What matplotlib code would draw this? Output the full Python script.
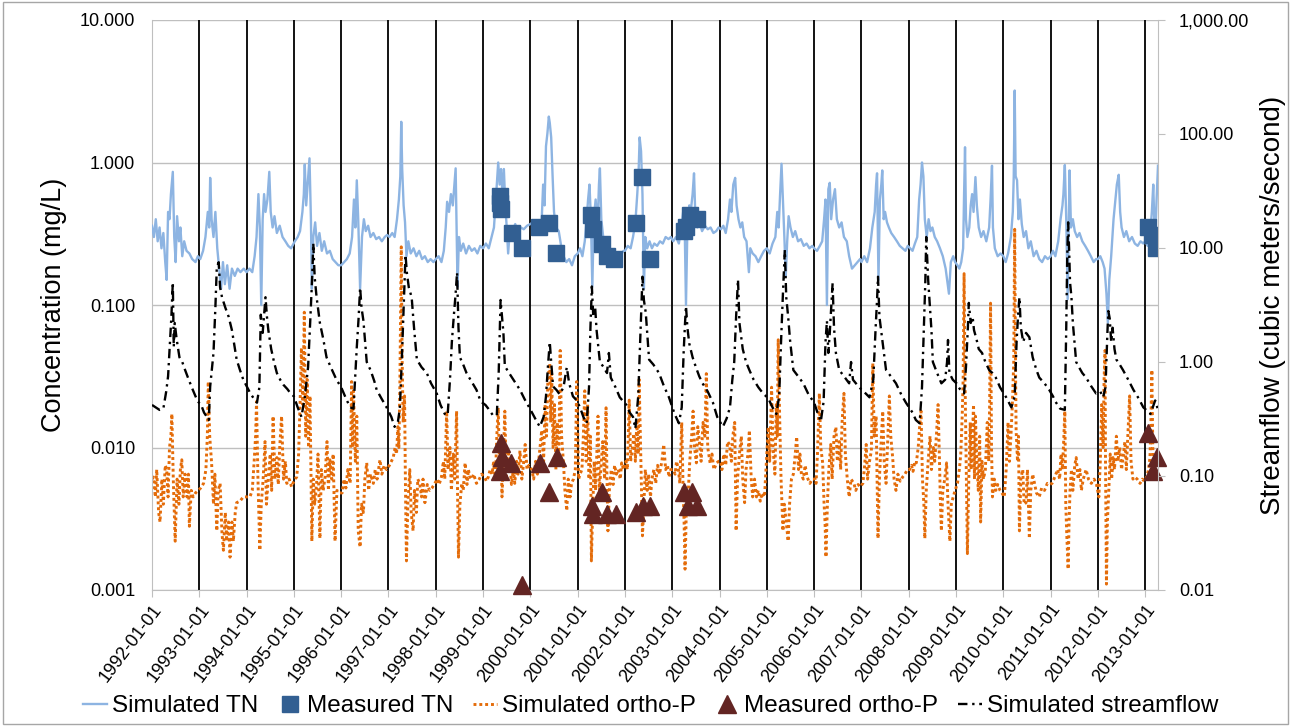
import matplotlib
matplotlib.use('Agg')
import matplotlib.pyplot as plt
from matplotlib.patches import Rectangle
from matplotlib.lines import Line2D
from matplotlib.ticker import FixedLocator, NullLocator, FuncFormatter

# simulated total nitrogen (decimal year, mg/L)
sim_tn = [
    (1992.00, 0.36), (1992.04, 0.30), (1992.08, 0.40), (1992.12, 0.28), (1992.16, 0.35), (1992.20, 0.25),
    (1992.24, 0.32), (1992.28, 0.20), (1992.31, 0.15), (1992.34, 0.45), (1992.37, 0.40), (1992.40, 0.60),
    (1992.44, 0.86), (1992.47, 0.30), (1992.50, 0.20), (1992.53, 0.42), (1992.57, 0.28), (1992.60, 0.35),
    (1992.64, 0.22), (1992.68, 0.28), (1992.73, 0.24), (1992.79, 0.23), (1992.85, 0.21), (1992.92, 0.20),
    (1992.97, 0.22),
    (1993.02, 0.21), (1993.08, 0.24), (1993.13, 0.30), (1993.18, 0.45), (1993.21, 0.35), (1993.23, 0.78),
    (1993.26, 0.40), (1993.30, 0.30), (1993.34, 0.45), (1993.38, 0.25), (1993.42, 0.18), (1993.46, 0.13),
    (1993.50, 0.20), (1993.54, 0.14), (1993.59, 0.19), (1993.64, 0.13), (1993.69, 0.18), (1993.75, 0.16),
    (1993.81, 0.18), (1993.87, 0.17), (1993.94, 0.18),
    (1994.00, 0.17), (1994.06, 0.18), (1994.12, 0.17), (1994.17, 0.22), (1994.21, 0.30), (1994.25, 0.60),
    (1994.28, 0.35), (1994.31, 0.10), (1994.34, 0.40), (1994.37, 0.60), (1994.40, 0.45), (1994.44, 0.55),
    (1994.48, 0.86), (1994.51, 0.45), (1994.55, 0.35), (1994.59, 0.42), (1994.64, 0.32), (1994.70, 0.36),
    (1994.76, 0.30), (1994.82, 0.28), (1994.88, 0.26), (1994.94, 0.25),
    (1995.02, 0.28), (1995.08, 0.30), (1995.13, 0.33), (1995.18, 0.45), (1995.21, 0.60), (1995.23, 0.97),
    (1995.26, 0.50), (1995.29, 0.70), (1995.33, 1.07), (1995.36, 0.40), (1995.38, 0.13), (1995.41, 0.30),
    (1995.45, 0.38), (1995.49, 0.26), (1995.54, 0.32), (1995.59, 0.24), (1995.64, 0.28), (1995.70, 0.23),
    (1995.76, 0.24), (1995.82, 0.21), (1995.88, 0.20), (1995.94, 0.19),
    (1996.00, 0.19), (1996.06, 0.20), (1996.12, 0.21), (1996.18, 0.23), (1996.23, 0.30), (1996.27, 0.55),
    (1996.30, 0.35), (1996.33, 0.75), (1996.36, 0.40), (1996.40, 0.13), (1996.44, 0.30), (1996.48, 0.40),
    (1996.52, 0.33), (1996.57, 0.36), (1996.62, 0.30), (1996.68, 0.32), (1996.74, 0.29), (1996.80, 0.30),
    (1996.86, 0.28), (1996.92, 0.30), (1996.97, 0.31),
    (1997.02, 0.30), (1997.08, 0.32), (1997.13, 0.30), (1997.18, 0.40), (1997.22, 0.55), (1997.25, 0.80),
    (1997.27, 1.93), (1997.29, 0.90), (1997.32, 0.50), (1997.35, 0.38), (1997.38, 0.22), (1997.42, 0.28),
    (1997.47, 0.23), (1997.53, 0.25), (1997.59, 0.22), (1997.65, 0.24), (1997.71, 0.21), (1997.77, 0.22),
    (1997.83, 0.20), (1997.89, 0.21), (1997.95, 0.20),
    (1998.00, 0.21), (1998.06, 0.22), (1998.12, 0.20), (1998.17, 0.24), (1998.21, 0.35), (1998.24, 0.53),
    (1998.28, 0.45), (1998.32, 0.60), (1998.36, 0.50), (1998.40, 0.75), (1998.42, 0.91), (1998.44, 0.35),
    (1998.46, 0.134), (1998.49, 0.30), (1998.53, 0.24), (1998.58, 0.27), (1998.64, 0.23), (1998.70, 0.26),
    (1998.76, 0.24), (1998.82, 0.25), (1998.88, 0.23), (1998.94, 0.26),
    (1999.00, 0.25), (1999.06, 0.27), (1999.12, 0.25), (1999.18, 0.30), (1999.23, 0.35), (1999.27, 0.55),
    (1999.30, 0.80), (1999.32, 1.00), (1999.35, 0.70), (1999.38, 0.90), (1999.41, 0.60), (1999.44, 0.90),
    (1999.47, 0.50), (1999.50, 0.35), (1999.53, 0.23), (1999.57, 0.35), (1999.62, 0.33), (1999.68, 0.37),
    (1999.74, 0.32), (1999.80, 0.35), (1999.86, 0.34), (1999.93, 0.36),
    (2000.00, 0.37), (2000.05, 0.38), (2000.10, 0.32), (2000.15, 0.36), (2000.20, 0.33), (2000.24, 0.40),
    (2000.27, 0.70), (2000.30, 0.50), (2000.33, 1.30), (2000.36, 1.60), (2000.39, 2.10), (2000.41, 1.90),
    (2000.44, 1.50), (2000.47, 0.80), (2000.50, 0.45), (2000.54, 0.35), (2000.60, 0.33), (2000.65, 0.26),
    (2000.70, 0.22), (2000.76, 0.20), (2000.82, 0.21), (2000.88, 0.19), (2000.94, 0.22),
    (2001.00, 0.23), (2001.05, 0.25), (2001.10, 0.22), (2001.15, 0.28), (2001.19, 0.40), (2001.22, 0.55),
    (2001.25, 0.70), (2001.28, 0.40), (2001.31, 0.134), (2001.34, 0.40), (2001.38, 0.55), (2001.42, 0.35),
    (2001.45, 0.70), (2001.47, 0.91), (2001.50, 0.40), (2001.54, 0.30), (2001.58, 0.25), (2001.63, 0.24),
    (2001.69, 0.21), (2001.75, 0.22), (2001.81, 0.21), (2001.87, 0.22), (2001.93, 0.23), (2001.97, 0.24),
    (2002.00, 0.24), (2002.06, 0.26), (2002.12, 0.25), (2002.17, 0.30), (2002.22, 0.38), (2002.26, 0.60),
    (2002.29, 0.90), (2002.31, 1.50), (2002.34, 1.20), (2002.37, 0.60), (2002.40, 0.13), (2002.43, 0.30),
    (2002.47, 0.25), (2002.52, 0.28), (2002.57, 0.25), (2002.62, 0.27), (2002.68, 0.26), (2002.74, 0.28),
    (2002.80, 0.27), (2002.86, 0.30), (2002.92, 0.29), (2002.97, 0.30),
    (2003.02, 0.28), (2003.08, 0.30), (2003.14, 0.27), (2003.19, 0.35), (2003.23, 0.45), (2003.26, 0.40),
    (2003.29, 0.10), (2003.32, 0.35), (2003.36, 0.50), (2003.39, 0.45), (2003.43, 0.60), (2003.46, 0.84),
    (2003.49, 0.40), (2003.53, 0.35), (2003.58, 0.38), (2003.63, 0.33), (2003.69, 0.36), (2003.75, 0.34),
    (2003.81, 0.35), (2003.87, 0.32), (2003.93, 0.33), (2003.98, 0.35),
    (2004.03, 0.34), (2004.08, 0.36), (2004.13, 0.32), (2004.18, 0.40), (2004.22, 0.55), (2004.25, 0.45),
    (2004.29, 0.70), (2004.33, 0.78), (2004.36, 0.50), (2004.40, 0.40), (2004.44, 0.35), (2004.48, 0.38),
    (2004.52, 0.30), (2004.57, 0.28), (2004.62, 0.17), (2004.65, 0.25), (2004.70, 0.23), (2004.76, 0.22),
    (2004.82, 0.20), (2004.88, 0.22), (2004.94, 0.24),
    (2005.00, 0.25), (2005.06, 0.23), (2005.12, 0.27), (2005.18, 0.30), (2005.22, 0.45), (2005.25, 0.35),
    (2005.28, 0.60), (2005.31, 0.98), (2005.34, 0.55), (2005.37, 0.30), (2005.40, 0.16), (2005.43, 0.28),
    (2005.46, 0.42), (2005.50, 0.35), (2005.55, 0.30), (2005.60, 0.33), (2005.66, 0.28), (2005.72, 0.29),
    (2005.78, 0.26), (2005.84, 0.27), (2005.90, 0.25), (2005.96, 0.26),
    (2006.00, 0.25), (2006.06, 0.24), (2006.12, 0.26), (2006.17, 0.28), (2006.21, 0.40), (2006.24, 0.55),
    (2006.27, 0.10), (2006.30, 0.65), (2006.33, 0.72), (2006.36, 0.40), (2006.40, 0.55), (2006.44, 0.65),
    (2006.48, 0.40), (2006.53, 0.35), (2006.58, 0.38), (2006.63, 0.30), (2006.69, 0.28), (2006.74, 0.22),
    (2006.80, 0.18), (2006.86, 0.19), (2006.92, 0.20), (2006.97, 0.21),
    (2007.00, 0.20), (2007.06, 0.22), (2007.12, 0.20), (2007.18, 0.25), (2007.23, 0.35), (2007.28, 0.45),
    (2007.31, 0.70), (2007.33, 0.84), (2007.36, 0.15), (2007.39, 0.55), (2007.42, 0.70), (2007.44, 0.88),
    (2007.47, 0.40), (2007.50, 0.45), (2007.54, 0.38), (2007.58, 0.35), (2007.63, 0.32), (2007.69, 0.30),
    (2007.75, 0.28), (2007.81, 0.26), (2007.87, 0.25), (2007.93, 0.24), (2007.98, 0.26),
    (2008.03, 0.25), (2008.08, 0.24), (2008.13, 0.27), (2008.18, 0.30), (2008.22, 0.55), (2008.25, 0.70),
    (2008.28, 1.00), (2008.31, 0.80), (2008.34, 0.40), (2008.38, 0.30), (2008.42, 0.40), (2008.46, 0.33),
    (2008.50, 0.35), (2008.55, 0.30), (2008.60, 0.28), (2008.66, 0.25), (2008.72, 0.22), (2008.78, 0.18),
    (2008.85, 0.12), (2008.89, 0.20), (2008.94, 0.22), (2008.98, 0.20),
    (2009.03, 0.19), (2009.07, 0.18), (2009.11, 0.20), (2009.15, 0.25), (2009.17, 0.60), (2009.19, 1.28),
    (2009.21, 0.40), (2009.24, 0.30), (2009.28, 0.35), (2009.31, 0.50), (2009.34, 0.60), (2009.37, 0.45),
    (2009.41, 0.79), (2009.44, 0.50), (2009.48, 0.35), (2009.53, 0.30), (2009.58, 0.33), (2009.64, 0.28),
    (2009.70, 0.35), (2009.73, 0.55), (2009.76, 0.95), (2009.78, 0.35), (2009.82, 0.25), (2009.88, 0.22),
    (2009.94, 0.23),
    (2010.00, 0.22), (2010.05, 0.20), (2010.10, 0.23), (2010.16, 0.30), (2010.20, 0.45), (2010.22, 0.80),
    (2010.24, 3.20), (2010.26, 0.80), (2010.29, 0.75), (2010.32, 0.40), (2010.35, 0.55), (2010.39, 0.37),
    (2010.43, 0.30), (2010.48, 0.33), (2010.53, 0.25), (2010.58, 0.28), (2010.64, 0.22), (2010.70, 0.24),
    (2010.76, 0.21), (2010.82, 0.20), (2010.88, 0.22), (2010.94, 0.21),
    (2011.00, 0.22), (2011.05, 0.24), (2011.10, 0.22), (2011.16, 0.28), (2011.21, 0.40), (2011.25, 0.50),
    (2011.27, 0.60), (2011.30, 0.96), (2011.33, 0.40), (2011.36, 0.11), (2011.38, 0.30), (2011.40, 0.88),
    (2011.43, 0.35), (2011.47, 0.40), (2011.51, 0.33), (2011.56, 0.30), (2011.61, 0.32), (2011.67, 0.28),
    (2011.73, 0.26), (2011.79, 0.24), (2011.85, 0.22), (2011.91, 0.20), (2011.96, 0.21),
    (2012.00, 0.21), (2012.05, 0.22), (2012.10, 0.20), (2012.14, 0.18), (2012.18, 0.12), (2012.21, 0.075),
    (2012.24, 0.15), (2012.28, 0.22), (2012.33, 0.40), (2012.37, 0.55), (2012.40, 0.70), (2012.44, 0.82),
    (2012.47, 0.45), (2012.50, 0.35), (2012.55, 0.30), (2012.60, 0.33), (2012.66, 0.28), (2012.72, 0.30),
    (2012.78, 0.27), (2012.84, 0.26), (2012.90, 0.28), (2012.96, 0.27),
    (2013.00, 0.28), (2013.05, 0.26), (2013.10, 0.30), (2013.14, 0.45), (2013.17, 0.70), (2013.19, 0.40),
    (2013.22, 0.35), (2013.24, 0.55), (2013.27, 0.95),
]

# measured total nitrogen (mg/L)
meas_tn = [
    (1999.35, 0.58), (1999.36, 0.52), (1999.37, 0.47), (1999.61, 0.32), (1999.82, 0.25),
    (2000.18, 0.35), (2000.39, 0.375), (2000.54, 0.23),
    (2001.28, 0.43), (2001.32, 0.34), (2001.51, 0.27), (2001.62, 0.22), (2001.77, 0.21),
    (2002.23, 0.375), (2002.36, 0.79), (2002.53, 0.21),
    (2003.25, 0.33), (2003.30, 0.35), (2003.38, 0.43), (2003.52, 0.40),
    (2013.06, 0.35), (2013.14, 0.31), (2013.23, 0.25),
]

# simulated ortho-P (mg/L)
sim_p = [
    (1992.00, 0.006), (1992.03, 0.0062), (1992.07, 0.0045), (1992.10, 0.007), (1992.14, 0.0035),
    (1992.17, 0.003), (1992.21, 0.006), (1992.24, 0.004), (1992.28, 0.0075), (1992.31, 0.007),
    (1992.34, 0.0045), (1992.37, 0.01), (1992.40, 0.012), (1992.42, 0.0172), (1992.45, 0.006),
    (1992.49, 0.0022), (1992.53, 0.006), (1992.57, 0.004), (1992.60, 0.007), (1992.63, 0.0082),
    (1992.66, 0.0045), (1992.70, 0.0065), (1992.74, 0.0045), (1992.77, 0.0065), (1992.79, 0.0028),
    (1992.83, 0.005), (1992.87, 0.0045), (1992.92, 0.0048), (1992.98, 0.005),
    (1993.03, 0.0052), (1993.09, 0.0056), (1993.14, 0.007), (1993.17, 0.012), (1993.19, 0.029),
    (1993.22, 0.012), (1993.26, 0.0078), (1993.30, 0.004), (1993.33, 0.0065), (1993.37, 0.0026),
    (1993.40, 0.005), (1993.44, 0.0056), (1993.48, 0.0025), (1993.51, 0.0019), (1993.55, 0.0035),
    (1993.58, 0.0022), (1993.62, 0.003), (1993.65, 0.0017), (1993.69, 0.003), (1993.72, 0.0022),
    (1993.76, 0.0035), (1993.79, 0.0041), (1993.86, 0.0042), (1993.93, 0.0045),
    (1994.03, 0.0045), (1994.07, 0.0045), (1994.12, 0.005), (1994.16, 0.008), (1994.19, 0.012),
    (1994.21, 0.021), (1994.24, 0.006), (1994.28, 0.0019), (1994.31, 0.004), (1994.35, 0.006),
    (1994.39, 0.011), (1994.42, 0.004), (1994.46, 0.0062), (1994.50, 0.009), (1994.53, 0.005),
    (1994.56, 0.0166), (1994.60, 0.006), (1994.64, 0.0085), (1994.67, 0.0055), (1994.70, 0.01),
    (1994.74, 0.0166), (1994.78, 0.006), (1994.82, 0.008), (1994.85, 0.0056), (1994.90, 0.006),
    (1994.95, 0.0053),
    (1995.02, 0.006), (1995.06, 0.0062), (1995.10, 0.009), (1995.13, 0.02), (1995.16, 0.05),
    (1995.19, 0.02), (1995.22, 0.089), (1995.25, 0.012), (1995.28, 0.03), (1995.31, 0.01),
    (1995.34, 0.023), (1995.38, 0.0022), (1995.41, 0.006), (1995.44, 0.004), (1995.48, 0.0056),
    (1995.51, 0.009), (1995.55, 0.0023), (1995.58, 0.007), (1995.62, 0.005), (1995.66, 0.0062),
    (1995.70, 0.011), (1995.73, 0.005), (1995.76, 0.0082), (1995.80, 0.006), (1995.83, 0.009),
    (1995.87, 0.0022), (1995.91, 0.005), (1995.97, 0.0048),
    (1996.02, 0.0048), (1996.06, 0.006), (1996.10, 0.0052), (1996.14, 0.007), (1996.19, 0.0056),
    (1996.22, 0.029), (1996.24, 0.01), (1996.26, 0.025), (1996.30, 0.008), (1996.33, 0.0166),
    (1996.36, 0.0026), (1996.40, 0.002), (1996.43, 0.004), (1996.47, 0.0035), (1996.50, 0.006),
    (1996.54, 0.0078), (1996.58, 0.005), (1996.62, 0.0065), (1996.68, 0.0056), (1996.72, 0.007),
    (1996.76, 0.006), (1996.82, 0.0082), (1996.86, 0.0065), (1996.91, 0.0075), (1996.96, 0.007),
    (1997.02, 0.0075), (1997.06, 0.008), (1997.10, 0.0085), (1997.14, 0.01), (1997.17, 0.009),
    (1997.20, 0.014), (1997.22, 0.01), (1997.24, 0.026), (1997.27, 0.256), (1997.29, 0.04),
    (1997.31, 0.015), (1997.34, 0.023), (1997.36, 0.005), (1997.38, 0.0016), (1997.41, 0.004),
    (1997.45, 0.007), (1997.48, 0.0035), (1997.52, 0.0026), (1997.55, 0.005), (1997.59, 0.0035),
    (1997.62, 0.006), (1997.66, 0.0056), (1997.70, 0.0045), (1997.73, 0.006), (1997.77, 0.0041),
    (1997.82, 0.0055), (1997.87, 0.005), (1997.92, 0.0052), (1997.98, 0.0056),
    (1998.03, 0.006), (1998.07, 0.0055), (1998.12, 0.0062), (1998.16, 0.008), (1998.19, 0.006),
    (1998.23, 0.018), (1998.26, 0.007), (1998.30, 0.01), (1998.33, 0.005), (1998.37, 0.009),
    (1998.40, 0.006), (1998.44, 0.018), (1998.46, 0.005), (1998.48, 0.0017), (1998.51, 0.004),
    (1998.55, 0.0056), (1998.58, 0.005), (1998.62, 0.0078), (1998.66, 0.0055), (1998.69, 0.007),
    (1998.72, 0.0062), (1998.76, 0.006), (1998.80, 0.0065), (1998.86, 0.0056), (1998.92, 0.006),
    (1998.97, 0.0065),
    (1999.03, 0.0062), (1999.07, 0.0058), (1999.11, 0.0062), (1999.15, 0.007), (1999.19, 0.0065),
    (1999.22, 0.0078), (1999.26, 0.006), (1999.29, 0.012), (1999.32, 0.019), (1999.35, 0.007),
    (1999.38, 0.011), (1999.40, 0.0045), (1999.43, 0.009), (1999.46, 0.018), (1999.49, 0.006),
    (1999.53, 0.0095), (1999.57, 0.0078), (1999.60, 0.0055), (1999.64, 0.007), (1999.67, 0.0056),
    (1999.71, 0.008), (1999.74, 0.0065), (1999.78, 0.0095), (1999.82, 0.006), (1999.86, 0.008),
    (1999.89, 0.0105), (1999.93, 0.007), (1999.97, 0.0075),
    (2000.03, 0.007), (2000.07, 0.006), (2000.11, 0.008), (2000.15, 0.0065), (2000.19, 0.009),
    (2000.24, 0.0132), (2000.28, 0.008), (2000.31, 0.02), (2000.34, 0.012), (2000.37, 0.03),
    (2000.41, 0.039), (2000.43, 0.015), (2000.45, 0.033), (2000.48, 0.01), (2000.51, 0.02),
    (2000.54, 0.007), (2000.57, 0.015), (2000.60, 0.008), (2000.63, 0.048), (2000.66, 0.012),
    (2000.70, 0.0078), (2000.73, 0.005), (2000.77, 0.0036), (2000.80, 0.006), (2000.84, 0.0045),
    (2000.87, 0.0056), (2000.91, 0.006), (2000.95, 0.007), (2000.98, 0.029),
    (2001.02, 0.006), (2001.05, 0.0065), (2001.09, 0.007), (2001.12, 0.012), (2001.15, 0.025),
    (2001.18, 0.008), (2001.21, 0.02), (2001.24, 0.006), (2001.27, 0.012), (2001.29, 0.0016),
    (2001.32, 0.0039), (2001.35, 0.008), (2001.38, 0.005), (2001.41, 0.01), (2001.43, 0.0166),
    (2001.46, 0.005), (2001.50, 0.0078), (2001.53, 0.011), (2001.57, 0.006), (2001.60, 0.019),
    (2001.62, 0.006), (2001.64, 0.0026), (2001.67, 0.005), (2001.71, 0.007), (2001.75, 0.0055),
    (2001.78, 0.0075), (2001.82, 0.0065), (2001.86, 0.007), (2001.90, 0.006), (2001.93, 0.0078),
    (2001.97, 0.007),
    (2002.02, 0.008), (2002.05, 0.007), (2002.09, 0.0215), (2002.12, 0.008), (2002.16, 0.01),
    (2002.19, 0.0125), (2002.22, 0.008), (2002.25, 0.015), (2002.28, 0.009), (2002.30, 0.03),
    (2002.33, 0.01), (2002.35, 0.005), (2002.37, 0.0024), (2002.40, 0.004), (2002.43, 0.007),
    (2002.47, 0.005), (2002.50, 0.0065), (2002.54, 0.0045), (2002.57, 0.006), (2002.61, 0.007),
    (2002.65, 0.0056), (2002.69, 0.0075), (2002.73, 0.0065), (2002.78, 0.008), (2002.82, 0.0105),
    (2002.86, 0.007), (2002.90, 0.0075), (2002.93, 0.0062), (2002.97, 0.007),
    (2003.02, 0.007), (2003.06, 0.0065), (2003.09, 0.008), (2003.13, 0.007), (2003.16, 0.0056),
    (2003.20, 0.015), (2003.23, 0.005), (2003.25, 0.003), (2003.27, 0.0014), (2003.30, 0.004),
    (2003.34, 0.005), (2003.37, 0.008), (2003.41, 0.012), (2003.44, 0.018), (2003.47, 0.01),
    (2003.51, 0.0078), (2003.54, 0.014), (2003.58, 0.0105), (2003.61, 0.008), (2003.65, 0.015),
    (2003.69, 0.012), (2003.72, 0.033), (2003.75, 0.01), (2003.80, 0.0078), (2003.84, 0.009),
    (2003.88, 0.007), (2003.94, 0.0078), (2003.98, 0.008),
    (2004.02, 0.008), (2004.05, 0.007), (2004.09, 0.009), (2004.13, 0.0075), (2004.17, 0.011),
    (2004.21, 0.0105), (2004.25, 0.008), (2004.28, 0.012), (2004.32, 0.015), (2004.35, 0.0026),
    (2004.38, 0.006), (2004.42, 0.009), (2004.46, 0.012), (2004.49, 0.006), (2004.53, 0.0041),
    (2004.56, 0.007), (2004.60, 0.009), (2004.63, 0.0132), (2004.67, 0.006), (2004.70, 0.0045),
    (2004.74, 0.006), (2004.78, 0.0045), (2004.82, 0.005), (2004.86, 0.0042), (2004.90, 0.0048),
    (2004.95, 0.0045),
    (2005.03, 0.0139), (2005.06, 0.008), (2005.10, 0.0265), (2005.13, 0.01), (2005.17, 0.0065),
    (2005.20, 0.02), (2005.22, 0.012), (2005.24, 0.057), (2005.27, 0.0166), (2005.30, 0.006),
    (2005.34, 0.0026), (2005.37, 0.004), (2005.41, 0.003), (2005.45, 0.0022), (2005.48, 0.004),
    (2005.52, 0.006), (2005.56, 0.0065), (2005.60, 0.009), (2005.63, 0.0119), (2005.67, 0.007),
    (2005.70, 0.009), (2005.73, 0.0065), (2005.77, 0.006), (2005.81, 0.0075), (2005.85, 0.0062),
    (2005.91, 0.0056), (2005.96, 0.006),
    (2006.02, 0.006), (2006.04, 0.0056), (2006.07, 0.009), (2006.11, 0.024), (2006.14, 0.01),
    (2006.18, 0.0078), (2006.21, 0.004), (2006.23, 0.003), (2006.25, 0.0017), (2006.28, 0.004),
    (2006.31, 0.007), (2006.35, 0.0105), (2006.38, 0.006), (2006.42, 0.012), (2006.46, 0.0139),
    (2006.49, 0.008), (2006.53, 0.011), (2006.56, 0.007), (2006.59, 0.015), (2006.63, 0.024),
    (2006.66, 0.009), (2006.70, 0.006), (2006.74, 0.0045), (2006.78, 0.006), (2006.84, 0.0056),
    (2006.88, 0.005), (2006.93, 0.0055), (2006.97, 0.0053),
    (2007.03, 0.0056), (2007.06, 0.007), (2007.10, 0.0105), (2007.13, 0.006), (2007.17, 0.008),
    (2007.21, 0.0095), (2007.24, 0.039), (2007.27, 0.012), (2007.31, 0.0166), (2007.33, 0.006),
    (2007.35, 0.0023), (2007.38, 0.006), (2007.41, 0.01), (2007.45, 0.018), (2007.48, 0.008),
    (2007.52, 0.0056), (2007.55, 0.01), (2007.59, 0.023), (2007.62, 0.012), (2007.66, 0.0085),
    (2007.69, 0.006), (2007.73, 0.005), (2007.77, 0.0065), (2007.82, 0.0058), (2007.87, 0.0062),
    (2007.92, 0.0065), (2007.97, 0.007),
    (2008.02, 0.007), (2008.06, 0.0075), (2008.09, 0.0068), (2008.13, 0.008), (2008.16, 0.0078),
    (2008.20, 0.01), (2008.23, 0.014), (2008.26, 0.018), (2008.29, 0.006), (2008.32, 0.004),
    (2008.34, 0.0023), (2008.37, 0.005), (2008.41, 0.008), (2008.45, 0.012), (2008.48, 0.007),
    (2008.52, 0.01), (2008.55, 0.008), (2008.59, 0.013), (2008.62, 0.02), (2008.65, 0.008),
    (2008.67, 0.004), (2008.69, 0.0026), (2008.72, 0.005), (2008.76, 0.006), (2008.80, 0.0078),
    (2008.83, 0.004), (2008.87, 0.0022), (2008.90, 0.004), (2008.94, 0.0045), (2008.98, 0.005),
    (2009.03, 0.0056), (2009.07, 0.007), (2009.10, 0.009), (2009.13, 0.0166), (2009.15, 0.03),
    (2009.17, 0.166), (2009.19, 0.03), (2009.21, 0.01), (2009.24, 0.0018), (2009.27, 0.006),
    (2009.30, 0.015), (2009.32, 0.007), (2009.34, 0.0105), (2009.37, 0.02), (2009.39, 0.006),
    (2009.41, 0.0166), (2009.44, 0.008), (2009.47, 0.005), (2009.50, 0.012), (2009.52, 0.003),
    (2009.55, 0.008), (2009.58, 0.006), (2009.62, 0.007), (2009.66, 0.015), (2009.69, 0.008),
    (2009.71, 0.02), (2009.73, 0.103), (2009.75, 0.01), (2009.77, 0.0045), (2009.81, 0.006),
    (2009.84, 0.005), (2009.88, 0.0055), (2009.93, 0.005), (2009.97, 0.0048),
    (2010.02, 0.0045), (2010.06, 0.007), (2010.10, 0.015), (2010.13, 0.008), (2010.16, 0.012),
    (2010.19, 0.02), (2010.22, 0.04), (2010.24, 0.34), (2010.26, 0.03), (2010.27, 0.0132),
    (2010.30, 0.008), (2010.32, 0.012), (2010.34, 0.0026), (2010.37, 0.006), (2010.41, 0.007),
    (2010.44, 0.004), (2010.48, 0.0041), (2010.51, 0.007), (2010.55, 0.0023), (2010.58, 0.005),
    (2010.62, 0.0065), (2010.66, 0.0056), (2010.70, 0.0048), (2010.76, 0.0045), (2010.81, 0.0052),
    (2010.87, 0.005), (2010.93, 0.0056), (2010.98, 0.0055),
    (2011.03, 0.0056), (2011.07, 0.006), (2011.11, 0.0065), (2011.15, 0.007), (2011.19, 0.006),
    (2011.22, 0.009), (2011.25, 0.007), (2011.28, 0.012), (2011.30, 0.018), (2011.32, 0.004),
    (2011.34, 0.0025), (2011.37, 0.0014), (2011.39, 0.003), (2011.41, 0.005), (2011.44, 0.007),
    (2011.47, 0.005), (2011.51, 0.0075), (2011.54, 0.0085), (2011.58, 0.006), (2011.62, 0.007),
    (2011.65, 0.005), (2011.69, 0.006), (2011.75, 0.007), (2011.80, 0.006), (2011.86, 0.0056),
    (2011.92, 0.006), (2011.97, 0.0055),
    (2012.02, 0.0045), (2012.05, 0.008), (2012.08, 0.02), (2012.11, 0.01), (2012.13, 0.03),
    (2012.15, 0.048), (2012.16, 0.008), (2012.18, 0.0011), (2012.20, 0.003), (2012.23, 0.005),
    (2012.26, 0.009), (2012.29, 0.006), (2012.32, 0.0085), (2012.35, 0.007), (2012.39, 0.012),
    (2012.42, 0.008), (2012.46, 0.01), (2012.50, 0.007), (2012.53, 0.0085), (2012.57, 0.011),
    (2012.60, 0.007), (2012.64, 0.014), (2012.67, 0.023), (2012.70, 0.008), (2012.74, 0.006),
    (2012.78, 0.0062), (2012.83, 0.006), (2012.89, 0.0056), (2012.94, 0.006), (2012.98, 0.0058),
    (2013.03, 0.0062), (2013.07, 0.007), (2013.10, 0.0085), (2013.12, 0.015), (2013.14, 0.035),
    (2013.16, 0.01), (2013.18, 0.006), (2013.21, 0.007), (2013.24, 0.0065), (2013.27, 0.0068),
]

# measured ortho-P (mg/L)
meas_p = [
    (1999.37, 0.0108), (1999.39, 0.0086), (1999.60, 0.0078), (1999.36, 0.0068), (1999.82, 0.00108),
    (2000.20, 0.0078), (2000.40, 0.0049), (2000.56, 0.0086),
    (2001.30, 0.0039), (2001.33, 0.0034), (2001.51, 0.0049), (2001.61, 0.0034), (2001.81, 0.0034),
    (2002.23, 0.0035), (2002.39, 0.0039), (2002.53, 0.0039),
    (2003.25, 0.0049), (2003.41, 0.0049), (2003.34, 0.0039), (2003.52, 0.0039),
    (2013.05, 0.0127), (2013.24, 0.0086), (2013.16, 0.0068),
]

# simulated streamflow (cubic meters/second)
sim_q = [
    (1992.00, 0.42), (1992.08, 0.40), (1992.16, 0.38), (1992.24, 0.39), (1992.30, 0.55), (1992.34, 0.75),
    (1992.38, 1.5), (1992.41, 2.5), (1992.44, 5.0), (1992.46, 1.35), (1992.48, 2.2), (1992.52, 1.6),
    (1992.58, 1.1), (1992.64, 1.0), (1992.70, 0.85), (1992.76, 0.73), (1992.84, 0.6), (1992.92, 0.5),
    (1992.97, 0.45),
    (1993.04, 0.42), (1993.10, 0.36), (1993.16, 0.33), (1993.20, 0.31), (1993.23, 0.61), (1993.30, 1.2),
    (1993.34, 3.0), (1993.37, 6.8), (1993.41, 7.5), (1993.44, 4.5), (1993.48, 3.7), (1993.55, 3.0),
    (1993.62, 2.5), (1993.69, 1.9), (1993.79, 1.05), (1993.86, 0.85), (1993.93, 0.7),
    (1994.08, 0.53), (1994.15, 0.48), (1994.22, 0.44), (1994.27, 0.6), (1994.30, 2.6), (1994.34, 1.8),
    (1994.40, 3.7), (1994.43, 2.5), (1994.46, 1.9), (1994.52, 1.3), (1994.58, 1.0), (1994.64, 0.8),
    (1994.71, 0.7), (1994.78, 0.63), (1994.86, 0.58), (1994.93, 0.53),
    (1995.00, 0.5), (1995.08, 0.4), (1995.16, 0.33), (1995.23, 0.49), (1995.30, 0.9), (1995.35, 2.5),
    (1995.39, 6.0), (1995.41, 11.0), (1995.44, 5.5), (1995.48, 3.7), (1995.55, 2.2), (1995.62, 1.6),
    (1995.69, 1.1), (1995.78, 0.9), (1995.90, 0.7),
    (1996.00, 0.6), (1996.10, 0.48), (1996.19, 0.40), (1996.26, 0.39), (1996.30, 0.8), (1996.33, 1.35),
    (1996.37, 2.5), (1996.40, 4.5), (1996.43, 3.0), (1996.47, 2.3), (1996.54, 1.0), (1996.62, 0.85),
    (1996.70, 0.68), (1996.75, 0.57), (1996.85, 0.48), (1996.96, 0.40),
    (1997.06, 0.33), (1997.13, 0.27), (1997.20, 0.30), (1997.24, 0.39), (1997.28, 1.0), (1997.32, 3.0),
    (1997.36, 8.7), (1997.39, 6.0), (1997.43, 4.5), (1997.49, 3.7), (1997.54, 2.0), (1997.60, 1.05),
    (1997.70, 0.9), (1997.81, 0.8), (1997.90, 0.65),
    (1998.02, 0.53), (1998.10, 0.42), (1998.19, 0.35), (1998.25, 0.34), (1998.30, 0.7), (1998.34, 1.5),
    (1998.38, 2.5), (1998.42, 4.0), (1998.45, 6.1), (1998.48, 2.0), (1998.51, 1.1), (1998.58, 0.95),
    (1998.65, 0.8), (1998.75, 0.68), (1998.86, 0.57), (1998.95, 0.45),
    (1999.05, 0.42), (1999.11, 0.39), (1999.21, 0.34), (1999.29, 0.34), (1999.33, 0.8), (1999.37, 3.5),
    (1999.40, 2.5), (1999.43, 1.8), (1999.46, 0.92), (1999.55, 0.8), (1999.64, 0.7), (1999.78, 0.57),
    (1999.88, 0.47), (1999.99, 0.39),
    (2000.10, 0.32), (2000.20, 0.27), (2000.28, 0.33), (2000.33, 0.5), (2000.37, 0.9), (2000.41, 1.5),
    (2000.44, 1.0), (2000.48, 0.61), (2000.55, 0.57), (2000.62, 0.52), (2000.70, 0.6), (2000.77, 0.9),
    (2000.82, 0.65), (2000.90, 0.5), (2000.98, 0.46),
    (2001.05, 0.40), (2001.12, 0.33), (2001.19, 0.29), (2001.24, 0.6), (2001.27, 2.0), (2001.30, 4.6),
    (2001.33, 2.5), (2001.37, 3.0), (2001.40, 1.9), (2001.47, 1.0), (2001.55, 0.9), (2001.62, 0.8),
    (2001.66, 1.2), (2001.70, 0.73), (2001.80, 0.6), (2001.89, 0.49),
    (2002.03, 0.42), (2002.10, 0.36), (2002.17, 0.33), (2002.22, 0.26), (2002.28, 0.5), (2002.32, 1.5),
    (2002.35, 3.5), (2002.37, 5.6), (2002.40, 3.5), (2002.44, 2.7), (2002.51, 1.05), (2002.60, 0.95),
    (2002.72, 0.8), (2002.82, 0.62), (2002.93, 0.49),
    (2003.05, 0.35), (2003.14, 0.29), (2003.20, 0.4), (2003.24, 1.2), (2003.27, 2.2), (2003.29, 3.1),
    (2003.32, 2.0), (2003.36, 1.45), (2003.43, 1.1), (2003.50, 0.9), (2003.57, 0.75), (2003.64, 0.65),
    (2003.75, 0.55), (2003.86, 0.44), (2003.95, 0.33),
    (2004.07, 0.27), (2004.15, 0.32), (2004.22, 0.40), (2004.27, 0.7), (2004.31, 1.0), (2004.35, 2.5),
    (2004.39, 5.3), (2004.42, 2.2), (2004.49, 1.3), (2004.56, 1.0), (2004.63, 0.85), (2004.72, 0.7),
    (2004.82, 0.6), (2004.92, 0.53),
    (2005.03, 0.48), (2005.12, 0.40), (2005.20, 0.35), (2005.26, 0.5), (2005.30, 1.5), (2005.34, 4.0),
    (2005.38, 9.6), (2005.41, 3.7), (2005.45, 2.5), (2005.49, 1.56), (2005.56, 0.85), (2005.66, 0.75),
    (2005.77, 0.65), (2005.88, 0.52),
    (2006.00, 0.44), (2006.07, 0.36), (2006.14, 0.30), (2006.20, 0.45), (2006.24, 1.5), (2006.27, 2.3),
    (2006.30, 1.2), (2006.33, 1.8), (2006.36, 3.0), (2006.39, 4.9), (2006.42, 2.0), (2006.46, 1.2),
    (2006.53, 0.85), (2006.63, 0.75), (2006.74, 0.65), (2006.78, 1.0), (2006.82, 0.7), (2006.95, 0.6),
    (2007.05, 0.55), (2007.17, 0.49), (2007.25, 0.7), (2007.30, 2.0), (2007.33, 3.5), (2007.35, 5.6),
    (2007.38, 2.5), (2007.45, 1.45), (2007.52, 0.85), (2007.62, 0.75), (2007.73, 0.65), (2007.84, 0.52),
    (2007.94, 0.44),
    (2008.08, 0.36), (2008.15, 0.31), (2008.23, 0.29), (2008.28, 0.6), (2008.32, 2.0), (2008.35, 5.0),
    (2008.37, 12.5), (2008.41, 5.3), (2008.45, 3.0), (2008.48, 1.9), (2008.51, 1.0), (2008.60, 0.8),
    (2008.69, 0.65), (2008.77, 0.7), (2008.81, 1.0), (2008.83, 1.56), (2008.86, 0.8), (2008.93, 0.7),
    (2009.01, 0.65), (2009.08, 0.58), (2009.17, 0.53), (2009.21, 0.9), (2009.25, 2.0), (2009.27, 3.3),
    (2009.31, 2.2), (2009.35, 2.5), (2009.38, 1.9), (2009.43, 1.6), (2009.48, 1.3), (2009.55, 1.2),
    (2009.62, 1.0), (2009.70, 0.85), (2009.77, 0.8), (2009.84, 0.73), (2009.93, 0.6),
    (2010.06, 0.49), (2010.17, 0.40), (2010.24, 0.5), (2010.28, 1.5), (2010.31, 2.5), (2010.34, 3.7),
    (2010.37, 2.0), (2010.42, 1.5), (2010.48, 1.8), (2010.55, 1.65), (2010.62, 1.1), (2010.70, 0.85),
    (2010.76, 0.73), (2010.87, 0.65), (2010.97, 0.57),
    (2011.05, 0.5), (2011.10, 0.45), (2011.20, 0.39), (2011.30, 0.38), (2011.33, 2.0), (2011.35, 8.0),
    (2011.37, 16.8), (2011.39, 10.0), (2011.41, 5.0), (2011.44, 3.7), (2011.47, 2.2), (2011.54, 1.0),
    (2011.60, 0.9), (2011.67, 0.8), (2011.75, 0.73), (2011.85, 0.62), (2011.96, 0.53),
    (2012.05, 0.55), (2012.11, 0.49), (2012.16, 0.6), (2012.20, 1.8), (2012.22, 2.8), (2012.25, 2.4),
    (2012.28, 1.5), (2012.31, 2.0), (2012.35, 1.3), (2012.39, 1.05), (2012.46, 0.95), (2012.53, 0.85),
    (2012.64, 0.7), (2012.75, 0.57), (2012.86, 0.48), (2012.96, 0.40),
    (2013.05, 0.37), (2013.11, 0.35), (2013.16, 0.40), (2013.21, 0.46), (2013.24, 0.42), (2013.27, 0.38),
]

years = list(range(1992, 2014))
year_labels = [f'{y}-01-01' for y in years]
left_ticks = [0.001, 0.01, 0.1, 1, 10]
right_ticks = [0.01, 0.1, 1, 10, 100, 1000]

plt.rcParams['font.family'] = ['Liberation Sans', 'DejaVu Sans']

fig = plt.figure(figsize=(12.91, 7.26), dpi=100)
ax = fig.add_axes([152 / 1291, 1 - 590 / 726, (1158 - 152) / 1291, 570 / 726])
ax2 = ax.twinx()

grid_c = '#BFBFBF'

for y in left_ticks:
    ax.axhline(y, color=grid_c, lw=1.0, zorder=0.5)
for y in years[1:]:
    ax.axvline(y, color='black', lw=1.3, zorder=1)

x, v = zip(*sim_tn)
ax.plot(x, v, color='#8DB4E2', lw=1.7, zorder=3)
x, v = zip(*sim_p)
ax.plot(x, v, color='#E46C0A', lw=2.1, linestyle=(0, (1, 1)), zorder=2.5)
x, v = zip(*meas_tn)
ax.plot(x, v, ls='none', marker='s', ms=11, color='#325F92', mec='#325F92', zorder=5)
x, v = zip(*meas_p)
ax.plot(x, v, ls='none', marker='^', ms=13, color='#632523', mec='#632523', zorder=5, clip_on=False)
x, v = zip(*sim_q)
ax2.plot(x, v, color='black', lw=1.7, linestyle=(0, (4, 2, 1, 2)), zorder=3)

ax.set_yscale('log')
ax.set_ylim(0.001, 10)
ax.set_xlim(1992, 2013.27)
ax.yaxis.set_major_locator(FixedLocator(left_ticks))
ax.yaxis.set_minor_locator(NullLocator())
ax.yaxis.set_major_formatter(FuncFormatter(lambda val, p: f'{val:.3f}'))

ax2.set_yscale('log')
ax2.set_ylim(0.01, 1000)
ax2.yaxis.set_major_locator(FixedLocator(right_ticks))
ax2.yaxis.set_minor_locator(NullLocator())
ax2.yaxis.set_major_formatter(FuncFormatter(lambda val, p: f'{val:,.2f}'))

ax.set_xticks(years)
ax.set_xticklabels(year_labels, rotation=53, ha='right', va='top', rotation_mode='anchor', fontsize=13)
ax.tick_params(axis='x', length=5, color=grid_c, pad=3)
ax.tick_params(axis='y', length=0, labelsize=13, pad=12)
ax2.tick_params(axis='y', length=5, color=grid_c, labelsize=13, pad=10)

for s in ['top', 'right']:
    ax.spines[s].set_visible(False)
for s in ['top', 'left', 'bottom']:
    ax2.spines[s].set_visible(False)
ax.spines['left'].set_color(grid_c)
ax.spines['bottom'].set_color(grid_c)
ax2.spines['right'].set_color(grid_c)

ax.set_ylabel('Concentration (mg/L)', fontsize=19.5, labelpad=9)
ax2.set_ylabel('Streamflow (cubic meters/second)', fontsize=20, labelpad=8)

handles = [
    Line2D([], [], color='#8DB4E2', lw=1.7),
    Line2D([], [], ls='none', marker='s', ms=11, color='#325F92'),
    Line2D([], [], color='#E46C0A', lw=2.1, linestyle=(0, (1, 1))),
    Line2D([], [], ls='none', marker='^', ms=13, color='#632523'),
    Line2D([], [], color='black', lw=1.7, linestyle=(0, (4, 2, 1, 2))),
]
labels = ['Simulated TN', 'Measured TN', 'Simulated ortho-P', 'Measured ortho-P', 'Simulated streamflow']
fig.legend(handles, labels, loc='center', bbox_to_anchor=(0.504, 1 - 706 / 726), ncol=5, frameon=False,
           fontsize=17.5, handlelength=1.0, handletextpad=0.2, columnspacing=0.8)

fig.patches.append(Rectangle((0.002, 0.003), 0.996, 0.994, transform=fig.transFigure,
                             fill=False, ec='#A6A6A6', lw=1.0))

fig.savefig('out.png', dpi=100)
